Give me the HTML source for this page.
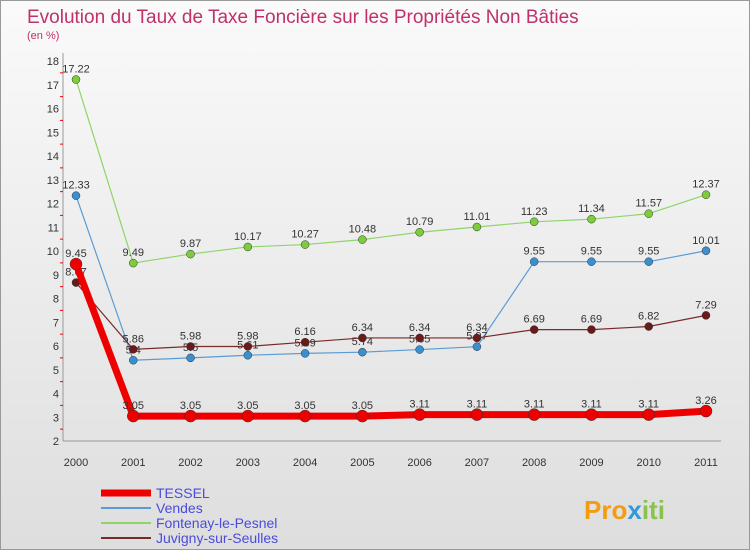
<!DOCTYPE html>
<html><head><meta charset="utf-8"><style>
body{margin:0;width:750px;height:550px;overflow:hidden;font-family:"Liberation Sans",sans-serif;}
#wrap{position:relative;width:748px;height:548px;border:1px solid #999;background:linear-gradient(#fafafa,#dedede);}
</style></head><body>
<div id="wrap">
<svg id="chart" width="748" height="548">
<text x="26" y="22" font-size="19" fill="#c0306a">Evolution du Taux de Taxe Foncière sur les Propriétés Non Bâties</text>
<text x="26" y="38" font-size="11" fill="#c0306a">(en %)</text>
<line x1="62" y1="52" x2="62" y2="440" stroke="#999"/>
<line x1="62" y1="440" x2="720" y2="440" stroke="#999"/>
<g id="axes"></g><g id="series"></g><g id="legend"></g>
<text x="583" y="518" font-size="26" font-weight="bold" fill="#f39c12">Pro<tspan fill="#3498db">x</tspan><tspan fill="#8bc34a">iti</tspan></text>
</svg></div>
<script>
const years=["2000","2001","2002","2003","2004","2005","2006","2007","2008","2009","2010","2011"];
const yTicks=[2,3,4,5,6,7,8,9,10,11,12,13,14,15,16,17,18];
const tessel=[9.45,3.05,3.05,3.05,3.05,3.05,3.11,3.11,3.11,3.11,3.11,3.26];
const vendes=[12.33,5.4,5.5,5.61,5.69,5.74,5.85,5.97,9.55,9.55,9.55,10.01];
const fontenay=[17.22,9.49,9.87,10.17,10.27,10.48,10.79,11.01,11.23,11.34,11.57,12.37];
const juvigny=[8.67,5.86,5.98,5.98,6.16,6.34,6.34,6.34,6.69,6.69,6.82,7.29];
const names=["TESSEL","Vendes","Fontenay-le-Pesnel","Juvigny-sur-Seulles"];
const NS="http://www.w3.org/2000/svg";
const xs=i=>75+i*(630/11);
const ys=v=>440-(v-2)*23.75;
function mk(t,a,p){const e=document.createElementNS(NS,t);for(const k in a)e.setAttribute(k,a[k]);p.appendChild(e);return e;}
const ax=document.getElementById('axes');
yTicks.forEach(v=>{
 const t=mk('text',{x:58,y:ys(v)+4,'font-size':11,'text-anchor':'end',fill:'#333'},ax);t.textContent=v;
 
 
 if(v<18){const m=mk('line',{x1:59,x2:62,y1:ys(v+0.5),y2:ys(v+0.5),stroke:'#e00'},ax);
 
 }
});
years.forEach((y,i)=>{
 const t=mk('text',{x:xs(i),y:465,'font-size':11,'text-anchor':'middle',fill:'#333'},ax);t.textContent=y;
 
 
});
const sg=document.getElementById('series');
function draw(data,color,w,r,dot,name,lblDy){
 const g=mk('g',{},sg);
 
 
 mk('polyline',{points:data.map((v,i)=>xs(i)+','+ys(v)).join(' '),fill:'none',stroke:color,'stroke-width':w},g);
 data.forEach((v,i)=>{
  const c=mk('circle',{cx:xs(i),cy:ys(v),r:r,fill:dot,stroke:'#333','stroke-width':0.5},g);
  
  
  const t=mk('text',{x:xs(i),y:ys(v)+lblDy,'font-size':11,'text-anchor':'middle',fill:'#333'},g);t.textContent=v;
  
  
 });
}
draw(vendes,'#5b9bd5',1.2,4,'#3a8fd0','vendes',-7);
draw(fontenay,'#8fd468',1.2,4,'#7ccc3c','fontenay',-7);
draw(juvigny,'#7a2a2a',1.2,4,'#6b1a1a','juvigny',-7);
draw(tessel,'#ee0000',7,6,'#ee0000','tessel',-7);
const lg=document.getElementById('legend');
const lc=['#ee0000','#5b9bd5','#8fd468','#7a2a2a'],lw=[7,2,2,2];
names.forEach((n,i)=>{
 const y=492+i*15;
 const l=mk('line',{x1:100,x2:150,y1:y,y2:y,stroke:lc[i],'stroke-width':lw[i]},lg);
 
 
 const t=mk('text',{x:155,y:y+5,'font-size':14,fill:'#4b4bdc'},lg);t.textContent=n;
 
 
});
</script></body></html>
